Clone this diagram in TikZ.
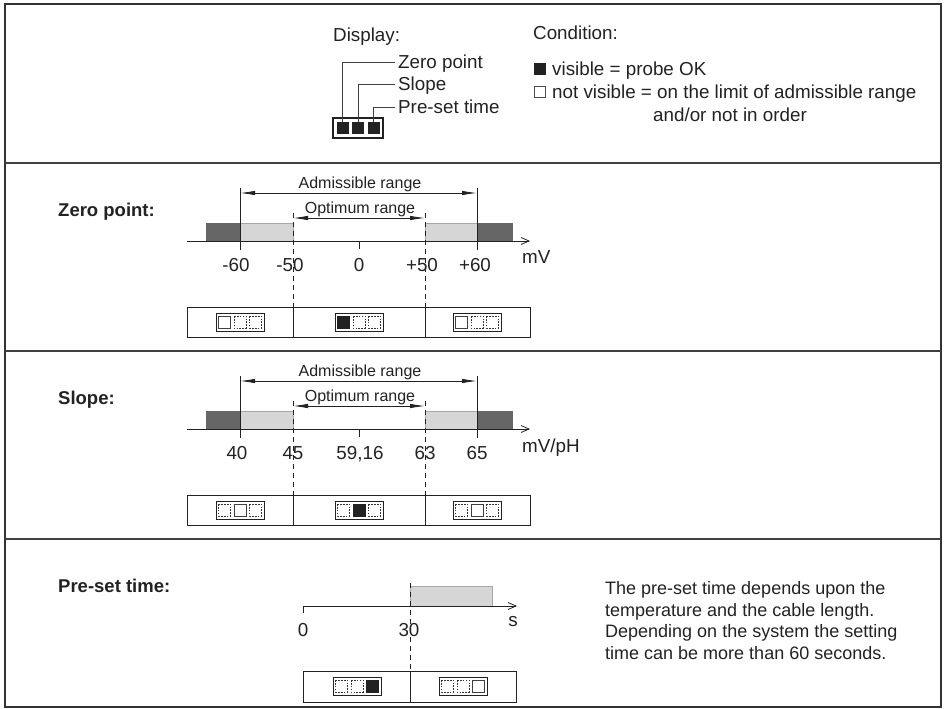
\documentclass[tikz,border=0pt]{standalone}
\usepackage{fontspec}
\setmainfont{Liberation Sans}
\usetikzlibrary{arrows.meta}
\definecolor{ink}{HTML}{222222}
\definecolor{darkbar}{HTML}{666666}
\definecolor{lightbar}{HTML}{D6D6D6}
\begin{document}
\begin{tikzpicture}[x=1pt,y=-1pt,
  txt/.style={font=\fontsize{18.8}{22}\selectfont, inner sep=0pt, text height=13.4pt, text depth=0pt, text=ink},
  para/.style={font=\fontsize{18}{21}\selectfont, inner sep=0pt, text height=12.9pt, text depth=0pt, text=ink},
  sm/.style={font=\fontsize{16}{19}\selectfont, inner sep=0pt, text height=11.5pt, text depth=0pt, text=ink},
  hd/.style={font=\fontsize{18.5}{22}\selectfont\bfseries, inner sep=0pt, text height=13.3pt, text depth=0pt, text=ink},
  frame/.style={line width=1.3pt, draw=black!80},
  divider/.style={line width=1.8pt, draw=black!75},
  thin/.style={line width=0.8pt, draw=ink},
  leader/.style={line width=0.7pt, draw=black!75},
  rangearrow/.style={line width=0.8pt, draw=ink, {Latex[length=15pt,width=4.5pt]}-{Latex[length=15pt,width=4.5pt]}},
  axis/.style={line width=0.8pt, draw=ink, -{Straight Barb[length=8pt,width=7pt]}},
  dashline/.style={line width=0.8pt, draw=ink, dash pattern=on 5pt off 4pt},
  darkfill/.style={fill=darkbar, draw=black!60, line width=0.5pt},
  lightfill/.style={fill=lightbar, draw=black!35, line width=0.5pt},
  boxrow/.style={line width=0.9pt, draw=ink},
  sqB/.style={fill=ink, draw=ink, line width=0.6pt},
  sqW/.style={fill=white, draw=black!75, line width=0.7pt},
  sqD/.style={draw=black!80, line width=0.6pt, dash pattern=on 1.6pt off 1.3pt},
  pics/icon/.style n args={3}{code={
    \draw[line width=0.9pt, draw=ink] (-24,-9) rectangle (24,9);
    \draw[#1] (-21.5,-6) rectangle (-9.5,6);
    \draw[#2] (-6,-6) rectangle (6,6);
    \draw[#3] (9.5,-6) rectangle (21.5,6);
  }}
]
\path[use as bounding box] (0,0) rectangle (946,709);
% outer frame and dividers
\draw[frame] (5,4) rectangle (941,707);
\draw[divider] (5,163) -- (941,163);
\draw[divider] (5,351) -- (941,351);
\draw[divider] (5,539) -- (941,539);

% ---------------- top panel ----------------
\node[txt,anchor=west] (disp) at (333,35) {Display:};
\node[txt,anchor=west] (zp) at (398,62) {Zero point};
\node[txt,anchor=west] (sl) at (398,84) {Slope};
\node[txt,anchor=west] (pt) at (398,107) {Pre-set time};
\draw[line width=1.1pt, draw=ink] (333,118) rectangle (383,138);
\fill[ink] (336.5,122) rectangle (348.5,134);
\fill[ink] (352,122) rectangle (364,134);
\fill[ink] (367.5,122) rectangle (379.5,134);
\coordinate (s1) at (342.5,122);
\coordinate (s2) at (358,122);
\coordinate (s3) at (373.5,122);
\draw[leader] (s1) |- ([xshift=-3pt]zp.west);
\draw[leader] (s2) |- ([xshift=-3pt]sl.west);
\draw[leader] (s3) |- ([xshift=-3pt]pt.west);

\node[txt,anchor=west] (cond) at (533,33) {Condition:};
\fill[ink] (534,63) rectangle (546,75);
\node[txt,anchor=west] (vis) at (552,69) {visible = probe OK};
\draw[black!70, line width=0.7pt] (534.5,86) rectangle (545.5,97.5);
\node[txt,anchor=west] (nvis) at (552,92) {not visible = on the limit of admissible range};
\node[txt,anchor=west] (ando) at (653,115) {and/or not in order};

% ---------------- zero point panel ----------------
\node[hd,anchor=west] (zhd) at (58,210) {Zero point:};
\draw[darkfill] (206,223) rectangle (240,241);
\draw[lightfill] (240,223) rectangle (293,241);
\draw[lightfill] (425,223) rectangle (477,241);
\draw[darkfill] (477,223) rectangle (512,241);
\draw[thin] (240,188) -- (240,250);
\draw[thin] (477,188) -- (477,250);
\draw[thin] (359,241) -- (359,249);
\draw[rangearrow] (240,193) -- (477,193);
\node[sm] (zadm) at (360,182.5) {Admissible range};
\draw[dashline] (293,213) -- (293,307);
\draw[dashline] (425,213) -- (425,307);
\draw[rangearrow] (293,218) -- (425,218);
\node[sm] (zopt) at (360,207.5) {Optimum range};
\draw[axis] (187,241) -- (530,241);
\node[txt] (zl1) at (236,265) {-60};
\node[txt] (zl2) at (290,265) {-50};
\node[txt] (zl3) at (359,265) {0};
\node[txt] (zl4) at (422,265) {+50};
\node[txt] (zl5) at (475,265) {+60};
\node[txt,anchor=west] (zu) at (522,257) {mV};
\draw[boxrow] (187,307) rectangle (530,337);
\draw[boxrow] (293,307) -- (293,337);
\draw[boxrow] (425,307) -- (425,337);
\pic at (240,322) {icon={sqW}{sqD}{sqD}};
\pic at (359,322) {icon={sqB}{sqD}{sqD}};
\pic at (477,322) {icon={sqW}{sqD}{sqD}};

% ---------------- slope panel ----------------
\node[hd,anchor=west] (shd) at (58,398) {Slope:};
\draw[darkfill] (206,411) rectangle (240,429);
\draw[lightfill] (240,411) rectangle (293,429);
\draw[lightfill] (425,411) rectangle (477,429);
\draw[darkfill] (477,411) rectangle (512,429);
\draw[thin] (240,376) -- (240,438);
\draw[thin] (477,376) -- (477,438);
\draw[thin] (359,429) -- (359,437);
\draw[rangearrow] (240,381) -- (477,381);
\node[sm] (sadm) at (360,370.5) {Admissible range};
\draw[dashline] (293,401) -- (293,495);
\draw[dashline] (425,401) -- (425,495);
\draw[rangearrow] (293,406) -- (425,406);
\node[sm] (sopt) at (360,395.5) {Optimum range};
\draw[axis] (187,429) -- (530,429);
\node[txt] (sl1) at (237,453) {40};
\node[txt] (sl2) at (293,453) {45};
\node[txt] (sl3) at (360,453) {59,16};
\node[txt] (sl4) at (425,453) {63};
\node[txt] (sl5) at (477,453) {65};
\node[txt,anchor=west] (su) at (522,446) {mV/pH};
\draw[boxrow] (187,495) rectangle (530,525);
\draw[boxrow] (293,495) -- (293,525);
\draw[boxrow] (425,495) -- (425,525);
\pic at (240,510) {icon={sqD}{sqW}{sqD}};
\pic at (359,510) {icon={sqD}{sqB}{sqD}};
\pic at (477,510) {icon={sqD}{sqW}{sqD}};

% ---------------- pre-set time panel ----------------
\node[hd,anchor=west] (phd) at (58,586) {Pre-set time:};
\draw[lightfill] (410,586) rectangle (492,606);
\draw[dashline] (410,583) -- (410,671);
\draw[axis] (303,613) -- (303,606) -- (517,606);
\node[txt] (pl1) at (303,630) {0};
\node[txt] (pl2) at (409,630) {30};
\node[txt] (pu) at (513,620) {s};
\draw[boxrow] (303,671) rectangle (516,702);
\draw[boxrow] (410,671) -- (410,702);
\pic at (357,686) {icon={sqD}{sqD}{sqB}};
\pic at (463,686) {icon={sqD}{sqD}{sqW}};
\node[para,anchor=west] (pt1) at (605,588.5) {The pre-set time depends upon the};
\node[para,anchor=west] (pt2) at (605,610) {temperature and the cable length.};
\node[para,anchor=west] (pt3) at (605,631.5) {Depending on the system the setting};
\node[para,anchor=west] (pt4) at (605,653) {time can be more than 60 seconds.};
\end{tikzpicture}
\end{document}
